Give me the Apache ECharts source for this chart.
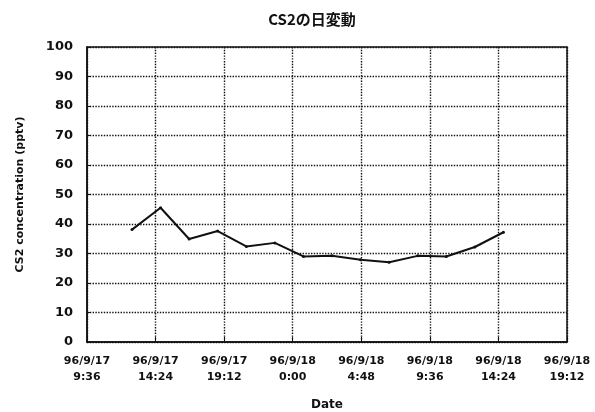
<!DOCTYPE html>
<html>
<head>
<meta charset="utf-8">
<script src="https://cdn.jsdelivr.net/npm/echarts@6/dist/echarts.min.js"></script>
<style>
html,body{margin:0;padding:0;background:#fff;}
#chart{width:595px;height:412px;}
</style>
</head>
<body>
<div id="chart"></div>
<script>
// Sample times and CS2 values (pptv)
var sampleTimes = ["96/9/17 12:45","96/9/17 14:45","96/9/17 16:45","96/9/17 18:45","96/9/17 20:45","96/9/17 22:45","96/9/18 0:45","96/9/18 2:45","96/9/18 4:45","96/9/18 6:45","96/9/18 8:45","96/9/18 10:45","96/9/18 12:45","96/9/18 14:45"];
var cs2Values = [38.1, 45.5, 34.9, 37.6, 32.4, 33.6, 29.0, 29.2, 27.9, 27.0, 29.2, 29.0, 32.2, 37.2];
var xTickLabels = ["96/9/17\n9:36","96/9/17\n14:24","96/9/17\n19:12","96/9/18\n0:00","96/9/18\n4:48","96/9/18\n9:36","96/9/18\n14:24","96/9/18\n19:12"];
var yTicks = [0,10,20,30,40,50,60,70,80,90,100];

function toHours(s){
  var parts = s.split(" ");
  var d = parseInt(parts[0].split("/")[2],10);
  var hm = parts[1].split(":");
  return (d-17)*24 + parseInt(hm[0],10) + parseInt(hm[1],10)/60;
}
var data = sampleTimes.map(function(t,i){ return [toHours(t), cs2Values[i]]; });

var chart = echarts.init(document.getElementById('chart'), null, {renderer:'canvas'});
var labFont = 'DejaVu Sans';
chart.setOption({
  animation:false,
  backgroundColor:'#fff',
  title:{
    text:'CS2の日変動',
    left:307, top:7, textAlign:'center',
    textStyle:{fontFamily:'Noto Sans CJK JP', fontSize:15, fontWeight:'bold', color:'#111'}
  },
  grid:{left:87, right:28, top:47, bottom:70, containLabel:false, outerBoundsMode:'none',
        show:true, borderColor:'#111', borderWidth:1.5, backgroundColor:'transparent'},
  xAxis:{
    type:'value', min:9.6, max:43.2, interval:4.8,
    name:'Date', nameLocation:'middle', nameGap:57,
    nameTextStyle:{fontFamily:labFont, fontSize:12, fontWeight:'bold', color:'#111'},
    axisLine:{lineStyle:{color:'#111', width:1.5}},
    axisTick:{inside:true, length:5, lineStyle:{color:'#111'}},
    axisLabel:{
      margin:11, fontFamily:labFont, fontSize:11, fontWeight:'bold', color:'#111', lineHeight:16,
      formatter:function(v){ var i=Math.round((v-9.6)/4.8); return xTickLabels[i]||''; }
    },
    splitLine:{show:true, lineStyle:{type:'dotted', color:'#111', width:1.4}}
  },
  yAxis:{
    type:'value', min:yTicks[0], max:yTicks[yTicks.length-1], interval:10,
    name:'CS2 concentration (pptv)', nameLocation:'middle', nameGap:61, nameRotate:90,
    nameTextStyle:{fontFamily:labFont, fontSize:11, fontWeight:'bold', color:'#111'},
    axisLine:{show:true, lineStyle:{color:'#111', width:1.5}},
    axisTick:{show:true, inside:true, length:4, lineStyle:{color:'#111'}},
    axisLabel:{margin:14, fontFamily:labFont, fontSize:13, fontWeight:'bold', color:'#111'},
    splitLine:{show:true, lineStyle:{type:'dotted', color:'#111', width:1.4}}
  },
  series:[{
    type:'line', data:data,
    symbol:'circle', symbolSize:3, showSymbol:true,
    itemStyle:{color:'#111'},
    lineStyle:{color:'#111', width:2}
  }]
});
</script>
</body>
</html>
